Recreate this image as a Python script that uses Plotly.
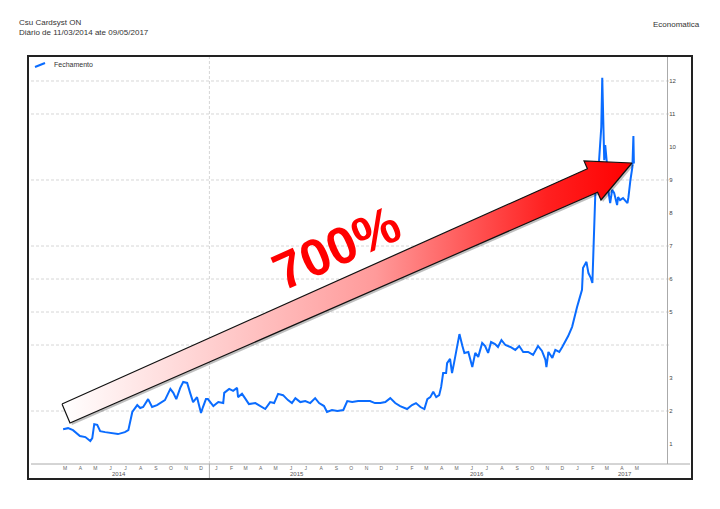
import plotly.graph_objects as go
import pandas as pd

# page window is 720x509; body has an 8px margin, so the figure is 704x493
OFF = 8
W, H = 720 - 2 * OFF, 509 - 2 * OFF

# ---------------- data ----------------
inicio = pd.Timestamp("2014-03-11")
# dias desde 11/03/2014
dias = [0, 10, 20, 34, 45, 55, 59, 63, 69, 75, 85, 99, 111, 125, 132, 140, 150, 156,
        162, 172, 180, 190, 196, 206, 217, 223, 229, 237, 243, 251, 257, 263, 271, 279,
        283, 289, 293, 298, 304, 314, 324, 326, 336, 344, 352, 354, 362, 368, 376, 389,
        399, 409, 419, 427, 435, 445, 455, 463, 470, 480, 490, 500, 510, 518, 528, 534,
        544, 555, 567, 575, 585, 597, 611, 621, 631, 642, 652, 662, 672, 682, 696, 706,
        714, 723, 731, 737, 743, 749, 755, 761, 765, 769, 775, 777, 783, 787, 791, 795,
        802, 808, 812, 820, 828, 834, 840, 848, 854, 860, 866, 874, 880, 887, 895, 905,
        915, 923, 931, 941, 951, 961, 969, 976, 978, 982, 990, 996, 1004, 1010, 1016,
        1022, 1030, 1034, 1040, 1044, 1050, 1052, 1059, 1063, 1067, 1071, 1073, 1075,
        1077, 1081, 1085, 1089, 1091, 1093, 1095, 1097, 1101, 1103, 1107, 1111, 1115,
        1121, 1123, 1127, 1133, 1142, 1144, 1148, 1152, 1154, 1155]
precos = [1.45, 1.48, 1.42, 1.24, 1.21, 1.09, 1.18, 1.60, 1.58, 1.39, 1.36, 1.33, 1.30,
          1.36, 1.42, 1.97, 2.18, 2.09, 2.12, 2.36, 2.12, 2.18, 2.24, 2.33, 2.67, 2.55,
          2.36, 2.70, 2.88, 2.85, 2.55, 2.27, 2.42, 1.94, 2.12, 2.36, 2.36, 2.27, 2.15,
          2.27, 2.24, 2.55, 2.67, 2.61, 2.70, 2.42, 2.52, 2.39, 2.21, 2.24, 2.15, 2.06,
          2.27, 2.24, 2.52, 2.48, 2.33, 2.24, 2.39, 2.27, 2.30, 2.24, 2.39, 2.24, 2.15,
          1.97, 2.03, 2.00, 2.03, 2.30, 2.27, 2.30, 2.30, 2.30, 2.24, 2.24, 2.27, 2.39,
          2.24, 2.15, 2.06, 2.18, 2.24, 2.12, 2.06, 2.36, 2.42, 2.58, 2.42, 2.48, 2.73,
          3.15, 3.15, 3.45, 3.58, 3.15, 3.45, 3.76, 4.33, 3.97, 3.76, 3.79, 3.33, 3.76,
          3.64, 4.06, 3.97, 3.76, 4.09, 4.03, 3.94, 4.15, 4.00, 3.94, 3.85, 3.97, 3.79,
          3.79, 3.70, 3.97, 3.82, 3.55, 3.33, 3.79, 3.61, 3.85, 3.79, 3.94, 4.09, 4.27,
          4.55, 4.82, 5.15, 5.36, 5.67, 6.33, 6.52, 6.18, 6.06, 5.88, 6.79, 7.79, 8.61,
          8.79, 9.60, 10.60, 12.10, 10.58, 9.60, 10.06, 9.40, 8.70, 8.30, 8.70, 8.61,
          8.24, 8.48, 8.39, 8.45, 8.30, 8.48, 9.00, 9.40, 10.33, 9.50]
datas = [inicio + pd.Timedelta(days=d) for d in dias]

serie_nome = "Fechamento"
valores_y = [1, 2, 3, 5, 6, 7, 8, 9, 10, 11, 12]
rotulos_y = [str(v) for v in valores_y]
linhas_grade = [2, 4, 5, 6, 7, 9, 11, 12]
iniciais_meses = ["J", "F", "M", "A", "M", "J", "J", "A", "S", "O", "N", "D"]
anos = ["2014", "2015", "2016", "2017"]
anos_pos = ["2014-07-02", "2015-06-28", "2016-06-26", "2017-04-20"]

meses = pd.date_range("2014-03-01", "2017-05-01", freq="MS") + pd.Timedelta(days=14)
meses_txt = [iniciais_meses[m.month - 1] for m in meses]

# ---------------- helpers (window pixel -> paper) ----------------
def px(x):
    return (x - OFF) / W

def py(y):
    return 1 - (y - OFF) / H

BLUE = "#0a6cff"
fig = go.Figure()

fig.add_trace(go.Scatter(x=datas, y=precos, mode="lines", name=serie_nome,
                         line=dict(color=BLUE, width=2), showlegend=False,
                         xaxis="x", yaxis="y"))

# arrow (decoration) in an overlay window-pixel space
ax = [62, 587.4, 584, 632, 601, 597.6, 70, 62]
ay = [404, 168.8, 161, 163, 200, 192.2, 423, 404]
fig.add_trace(go.Scatter(x=[v + 2 for v in ax], y=[v + 2 for v in ay], mode="lines",
                         fill="toself", fillcolor="rgba(0,0,0,0.25)",
                         line=dict(width=0, color="rgba(0,0,0,0)"), showlegend=False,
                         hoverinfo="skip", xaxis="x2", yaxis="y2"))
fig.add_trace(go.Scatter(x=ax, y=ay, mode="lines", fill="toself",
                         fillgradient=dict(type="horizontal",
                                           colorscale=[[0, "#ffffff"], [0.55, "#ff9a9a"], [0.85, "#ff2020"], [1, "#ff0000"]]),
                         line=dict(width=1.2, color="#111111"), showlegend=False,
                         hoverinfo="skip", xaxis="x2", yaxis="y2"))

shapes = []
# frame
shapes.append(dict(type="rect", xref="paper", yref="paper", x0=px(28), x1=px(692),
                   y0=py(479), y1=py(56), line=dict(color="#222222", width=2)))
# horizontal grid
for v in linhas_grade:
    shapes.append(dict(type="line", xref="paper", yref="y", x0=px(31), x1=px(670), y0=v, y1=v,
                       line=dict(color="#d6d6d6", width=1, dash="3px,2px"), layer="below"))
# vertical grid at year 2015
shapes.append(dict(type="line", xref="x", yref="paper", x0="2015-01-01", x1="2015-01-01",
                   y0=py(464), y1=py(57), line=dict(color="#d6d6d6", width=1, dash="3px,2px"),
                   layer="below"))
shapes.append(dict(type="line", xref="x", yref="paper", x0="2015-01-01", x1="2015-01-01",
                   y0=py(478), y1=py(464), line=dict(color="#aaaaaa", width=1)))
# x axis line
shapes.append(dict(type="line", xref="paper", yref="paper", x0=px(31), x1=px(690),
                   y0=py(464), y1=py(464), line=dict(color="#aaaaaa", width=1)))
# legend sample
shapes.append(dict(type="line", xref="paper", yref="paper", x0=px(35), x1=px(45),
                   y0=py(67), y1=py(63), line=dict(color=BLUE, width=2)))

annotations = [
    dict(text="Csu Cardsyst ON", x=px(17), y=py(22.5), xref="paper", yref="paper",
         xanchor="left", yanchor="middle", showarrow=False, font=dict(size=8, color="#333333")),
    dict(text="Diário de 11/03/2014 ate 09/05/2017", x=px(17), y=py(33), xref="paper",
         yref="paper", xanchor="left", yanchor="middle", showarrow=False,
         font=dict(size=8, color="#333333")),
    dict(text="Economatica", x=px(702), y=py(24), xref="paper", yref="paper",
         xanchor="right", yanchor="middle", showarrow=False, font=dict(size=8, color="#333333")),
    dict(text=serie_nome, x=px(52), y=py(64), xref="paper", yref="paper", xanchor="left",
         yanchor="middle", showarrow=False, font=dict(size=7, color="#333333")),
    dict(text="<b>700%</b>", x=px(336), y=py(248), xref="paper", yref="paper",
         xanchor="center", yanchor="middle", showarrow=False, textangle=-24,
         font=dict(size=52, color="#ff0000", family="Liberation Sans, Arial")),
]
for a, p in zip(anos, anos_pos):
    annotations.append(dict(text=a, x=p, y=py(474), xref="x", yref="paper", xanchor="center",
                            yanchor="middle", showarrow=False, font=dict(size=6, color="#555555")))

fig.update_layout(
    width=W, height=H, margin=dict(l=0, r=0, t=0, b=0),
    paper_bgcolor="white", plot_bgcolor="rgba(0,0,0,0)",
    font=dict(family="Liberation Sans, Arial", color="#333333"),
    xaxis=dict(domain=[px(31), px(667)], range=["2014-01-05", "2017-07-15"], type="date",
               showgrid=False, zeroline=False, showline=False, ticks="",
               tickvals=list(meses), ticktext=meses_txt, tickangle=0,
               tickfont=dict(size=5, color="#666666"), anchor="y"),
    yaxis=dict(domain=[py(464), py(57)], range=[0.394, 12.727], side="right",
               showgrid=False, zeroline=False, showline=True, linecolor="#aaaaaa",
               tickvals=valores_y, ticktext=rotulos_y, ticks="",
               tickfont=dict(size=6, color="#444444"), anchor="x"),
    xaxis2=dict(domain=[0, 1], range=[OFF, W + OFF], visible=False, anchor="y2", fixedrange=True),
    yaxis2=dict(domain=[0, 1], range=[H + OFF, OFF], visible=False, anchor="x2", fixedrange=True),
    shapes=shapes, annotations=annotations, showlegend=False,
)

fig.write_html("out.html")
